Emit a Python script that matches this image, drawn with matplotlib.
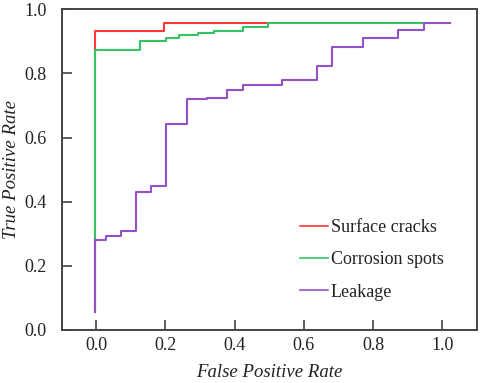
import matplotlib
matplotlib.use("Agg")
import matplotlib.pyplot as plt

plt.rcParams['font.family'] = ['Liberation Serif', 'DejaVu Serif']

series_names = ["Surface cracks", "Corrosion spots", "Leakage"]

surface_fpr = [-0.005, -0.005, 0.196, 0.196, 0.497]
surface_tpr = [0.057, 0.932, 0.932, 0.956, 0.956]

corrosion_fpr = [-0.005, -0.005, 0.127, 0.127, 0.202, 0.202, 0.24, 0.24, 0.295, 0.295,
                 0.341, 0.341, 0.425, 0.425, 0.497, 0.497, 0.947]
corrosion_tpr = [0.057, 0.873, 0.873, 0.901, 0.901, 0.91, 0.91, 0.92, 0.92, 0.925,
                 0.925, 0.933, 0.933, 0.944, 0.944, 0.956, 0.956]

leakage_fpr = [-0.005, -0.005, 0.028, 0.028, 0.071, 0.071, 0.115, 0.115, 0.159, 0.159,
               0.202, 0.202, 0.262, 0.262, 0.32, 0.32, 0.377, 0.377, 0.423, 0.423,
               0.538, 0.538, 0.639, 0.639, 0.683, 0.683, 0.772, 0.772, 0.873, 0.873,
               0.947, 0.947, 1.024]
leakage_tpr = [0.057, 0.28, 0.28, 0.293, 0.293, 0.31, 0.31, 0.431, 0.431, 0.449,
               0.449, 0.642, 0.642, 0.719, 0.719, 0.724, 0.724, 0.748, 0.748, 0.764,
               0.764, 0.78, 0.78, 0.823, 0.823, 0.883, 0.883, 0.911, 0.911, 0.935,
               0.935, 0.956, 0.956]

x_ticks = [0.0, 0.2, 0.4, 0.6, 0.8, 1.0]
x_tick_labels = ["0.0", "0.2", "0.4", "0.6", "0.8", "1.0"]
y_ticks = [0.0, 0.2, 0.4, 0.6, 0.8, 1.0]
y_tick_labels = ["0.0", "0.2", "0.4", "0.6", "0.8", "1.0"]

colors = ['#ff3838', '#33c466', '#9452c8']

fig = plt.figure(figsize=(4.8, 3.83), dpi=100)
ax = fig.add_axes([61.7/480, 1-330/383, (476.7-61.7)/480, (330-9.3)/383])

ax.plot(surface_fpr, surface_tpr, color=colors[0], lw=1.5, label=series_names[0])
ax.plot(corrosion_fpr, corrosion_tpr, color=colors[1], lw=1.5, label=series_names[1])
ax.plot(leakage_fpr, leakage_tpr, color=colors[2], lw=1.5, label=series_names[2])

ax.set_xlim(-0.1, 1.1)
ax.set_ylim(0.0, 1.0)
ax.set_xticks(x_ticks)
ax.set_xticklabels(x_tick_labels)
ax.set_yticks(y_ticks)
ax.set_yticklabels(y_tick_labels)
ax.tick_params(axis='both', direction='in', length=7, width=1.1, colors='#333333',
               labelsize=13, labelcolor='#222222')
ax.tick_params(axis='x', pad=5)
ax.tick_params(axis='y', pad=11)
for s in ax.spines.values():
    s.set_color('#444444')
    s.set_linewidth(1.4)

ax.set_xlabel("False Positive Rate", fontsize=13.5, style='italic', color='#222222', labelpad=7)
ax.set_ylabel("True Positive Rate", fontsize=13.5, style='italic', color='#222222', labelpad=3)

leg = ax.legend(loc='upper left', bbox_to_anchor=(300/480, 1-219/383),
                bbox_transform=fig.transFigure, frameon=False, fontsize=13,
                handlelength=1.57, handletextpad=0.12, labelspacing=0.85,
                borderpad=0, borderaxespad=0)
for t in leg.get_texts():
    t.set_color('#222222')
for h in leg.get_lines():
    h.set_linewidth(1.2)

fig.savefig("out.png", dpi=100)
